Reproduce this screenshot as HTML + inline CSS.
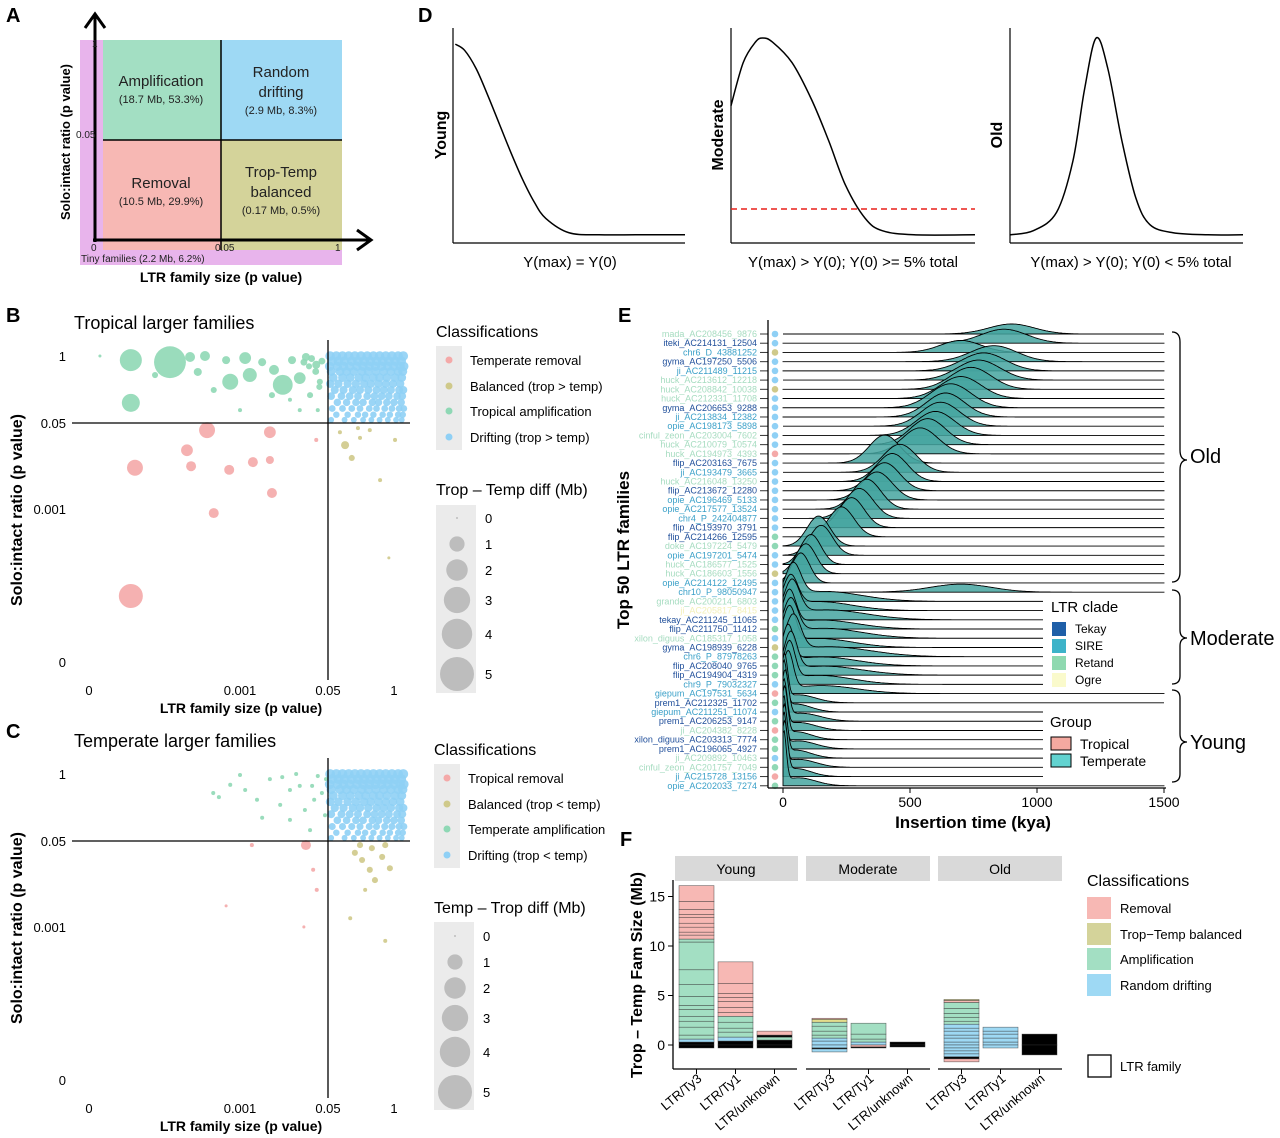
<!DOCTYPE html>
<html><head><meta charset="utf-8"><style>
body{margin:0;background:#fff}
svg{display:block;font-family:"Liberation Sans",Arial,sans-serif}
.b{font-weight:bold}
</style></head><body>
<svg id="fig" width="1280" height="1138" viewBox="0 0 1280 1138" xmlns="http://www.w3.org/2000/svg">
<rect x="0" y="0" width="1280" height="1138" fill="#fff"/>
<g class="b" font-size="20">
<text x="6" y="22">A</text>
<text x="6" y="322">B</text>
<text x="6" y="738">C</text>
<text x="418" y="22">D</text>
<text x="618" y="322">E</text>
<text x="620" y="846">F</text>
</g>
<g>
<rect x="80" y="40" width="262" height="225" fill="#e8b4ec"/>
<rect x="103" y="40" width="118" height="100" fill="#a3dfc3"/>
<rect x="221" y="40" width="121" height="100" fill="#9ed9f4"/>
<rect x="103" y="140" width="118" height="110" fill="#f7b8b4"/>
<rect x="221" y="140" width="121" height="110" fill="#d4d39a"/>
<line x1="103" y1="140" x2="342" y2="140" stroke="#000" stroke-width="1.5"/>
<line x1="221" y1="40" x2="221" y2="250" stroke="#000" stroke-width="1.5"/>
<line x1="95" y1="242" x2="95" y2="14" stroke="#000" stroke-width="3"/>
<polyline points="85,28 95,14 105,28" fill="none" stroke="#000" stroke-width="3"/>
<line x1="93" y1="240" x2="370" y2="240" stroke="#000" stroke-width="3"/>
<polyline points="357,230 371,240 357,250" fill="none" stroke="#000" stroke-width="3"/>
<g text-anchor="middle" fill="#222">
<text x="161" y="86" font-size="15">Amplification</text>
<text x="161" y="103" font-size="11">(18.7 Mb, 53.3%)</text>
<text x="281" y="77" font-size="15">Random</text>
<text x="281" y="97" font-size="15">drifting</text>
<text x="281" y="114" font-size="11">(2.9 Mb, 8.3%)</text>
<text x="161" y="188" font-size="15">Removal</text>
<text x="161" y="205" font-size="11">(10.5 Mb, 29.9%)</text>
<text x="281" y="177" font-size="15">Trop-Temp</text>
<text x="281" y="197" font-size="15">balanced</text>
<text x="281" y="214" font-size="11">(0.17 Mb, 0.5%)</text>
</g>
<g font-size="10" fill="#222">
<text x="92" y="47">1</text>
<text x="76" y="138">0.05</text>
<text x="91" y="251">0</text>
<text x="215" y="251">0.05</text>
<text x="335" y="251">1</text>
<text x="81" y="262" font-size="10">Tiny families (2.2 Mb, 6.2%)</text>
</g>
<text class="b" x="0" y="0" font-size="13" text-anchor="middle" transform="translate(70,142) rotate(-90)">Solo:intact ratio (p value)</text>
<text class="b" x="221" y="282" font-size="14" text-anchor="middle">LTR family size (p value)</text>
</g>
<g id="panelD">
<g stroke="#000" stroke-width="1.2">
<line x1="453" y1="28" x2="453" y2="243"/>
<line x1="453" y1="243" x2="685" y2="243"/>
<line x1="731" y1="28" x2="731" y2="243"/>
<line x1="731" y1="243" x2="975" y2="243"/>
<line x1="1010" y1="28" x2="1010" y2="243"/>
<line x1="1010" y1="243" x2="1243" y2="243"/>
</g>
<line x1="731" y1="209" x2="975" y2="209" stroke="#e8201a" stroke-width="1.5" stroke-dasharray="6,4"/>
<g class="b" font-size="16" text-anchor="middle">
<text transform="translate(446,135) rotate(-90)">Young</text>
<text transform="translate(723,135) rotate(-90)">Moderate</text>
<text transform="translate(1002,135) rotate(-90)">Old</text>
</g>
<g font-size="15" text-anchor="middle">
<text x="570" y="267">Y(max) = Y(0)</text>
<text x="853" y="267">Y(max) &gt; Y(0); Y(0) &gt;= 5% total</text>
<text x="1131" y="267">Y(max) &gt; Y(0); Y(0) &lt; 5% total</text>
</g>
</g>
<g>
<text x="74" y="329" font-size="18">Tropical larger families</text>
<g font-size="13" text-anchor="end">
<text x="66" y="361">1</text>
<text x="66" y="428">0.05</text>
<text x="66" y="514">0.001</text>
<text x="66" y="667">0</text>
</g>
<g font-size="13" text-anchor="middle">
<text x="89" y="695">0</text>
<text x="240" y="695">0.001</text>
<text x="328" y="695">0.05</text>
<text x="394" y="695">1</text>
</g>
<text class="b" transform="translate(22,510) rotate(-90)" font-size="16" text-anchor="middle">Solo:intact ratio (p value)</text>
<text class="b" x="241" y="713" font-size="14" text-anchor="middle">LTR family size (p value)</text>
</g>
<g>
<text x="74" y="747" font-size="18">Temperate larger families</text>
<g font-size="13" text-anchor="end">
<text x="66" y="779">1</text>
<text x="66" y="846">0.05</text>
<text x="66" y="932">0.001</text>
<text x="66" y="1085">0</text>
</g>
<g font-size="13" text-anchor="middle">
<text x="89" y="1113">0</text>
<text x="240" y="1113">0.001</text>
<text x="328" y="1113">0.05</text>
<text x="394" y="1113">1</text>
</g>
<text class="b" transform="translate(22,928) rotate(-90)" font-size="16" text-anchor="middle">Solo:intact ratio (p value)</text>
<text class="b" x="241" y="1131" font-size="14" text-anchor="middle">LTR family size (p value)</text>
</g>
<g font-size="13">
<text x="436" y="337" font-size="16">Classifications</text>
<rect x="436" y="346" width="26" height="104" fill="#ebebeb"/>
<circle cx="449" cy="360" r="3.5" fill="#f4a9a8"/>
<circle cx="449" cy="386" r="3.5" fill="#cfc98a"/>
<circle cx="449" cy="411" r="3.5" fill="#8fd8b5"/>
<circle cx="449" cy="437" r="3.5" fill="#8fd0f5"/>
<text x="470" y="365">Temperate removal</text>
<text x="470" y="391">Balanced (trop &gt; temp)</text>
<text x="470" y="416">Tropical amplification</text>
<text x="470" y="442">Drifting (trop &gt; temp)</text>
<text x="436" y="495" font-size="16">Trop – Temp diff (Mb)</text>
<rect x="436" y="505" width="40" height="188" fill="#ebebeb"/>
</g>
<g font-size="13">
<text x="434" y="755" font-size="16">Classifications</text>
<rect x="434" y="764" width="26" height="104" fill="#ebebeb"/>
<circle cx="447" cy="778" r="3.5" fill="#f4a9a8"/>
<circle cx="447" cy="804" r="3.5" fill="#cfc98a"/>
<circle cx="447" cy="829" r="3.5" fill="#8fd8b5"/>
<circle cx="447" cy="855" r="3.5" fill="#8fd0f5"/>
<text x="468" y="783">Tropical removal</text>
<text x="468" y="809">Balanced (trop &lt; temp)</text>
<text x="468" y="834">Temperate amplification</text>
<text x="468" y="860">Drifting (trop &lt; temp)</text>
<text x="434" y="913" font-size="16">Temp – Trop diff (Mb)</text>
<rect x="434" y="922" width="40" height="188" fill="#ebebeb"/>
</g>
<g>
<text class="b" transform="translate(629,550) rotate(-90)" font-size="17" text-anchor="middle">Top 50 LTR families</text>
<text class="b" x="973" y="828" font-size="17" text-anchor="middle">Insertion time (kya)</text>
<g fill="none" stroke="#000" stroke-width="1.3">
<path d="M1172,332 Q1180,332 1180,342 L1180,450 Q1180,460 1187,460 Q1180,460 1180,470 L1180,572 Q1180,582 1172,582"/>
<path d="M1172,590 Q1180,590 1180,598 L1180,630 Q1180,638 1187,638 Q1180,638 1180,646 L1180,676 Q1180,684 1172,684"/>
<path d="M1172,690 Q1180,690 1180,698 L1180,734 Q1180,742 1187,742 Q1180,742 1180,750 L1180,774 Q1180,782 1172,782"/>
</g>
<text x="1190" y="463" font-size="20">Old</text>
<text x="1190" y="645" font-size="20">Moderate</text>
<text x="1190" y="749" font-size="20">Young</text>
</g>
<g id="panelE"></g>
<g>
<rect x="1043" y="594" width="122" height="96" fill="#fff"/>
<text x="1051" y="612" font-size="15">LTR clade</text>
<g font-size="12">
<rect x="1052" y="622" width="14" height="14" fill="#1f5fa8"/>
<text x="1075" y="633">Tekay</text>
<rect x="1052" y="639" width="14" height="14" fill="#3db3c9"/>
<text x="1075" y="650">SIRE</text>
<rect x="1052" y="656" width="14" height="14" fill="#8fd9b0"/>
<text x="1075" y="667">Retand</text>
<rect x="1052" y="673" width="14" height="14" fill="#fafacc"/>
<text x="1075" y="684">Ogre</text>
</g>
<rect x="1043" y="705" width="122" height="72" fill="#fff"/>
<text x="1050" y="727" font-size="15">Group</text>
<rect x="1051" y="737" width="20" height="13" fill="#f4a9a0" stroke="#000"/>
<text x="1080" y="749" font-size="14">Tropical</text>
<rect x="1051" y="754" width="20" height="13" fill="#62d3d0" stroke="#000"/>
<text x="1080" y="766" font-size="14">Temperate</text>
</g>
<g>
<rect x="675" y="856" width="123" height="25" fill="#d9d9d9"/>
<rect x="806" y="856" width="124" height="25" fill="#d9d9d9"/>
<rect x="938" y="856" width="124" height="25" fill="#d9d9d9"/>
<g font-size="14" text-anchor="middle">
<text x="736" y="874">Young</text>
<text x="868" y="874">Moderate</text>
<text x="1000" y="874">Old</text>
</g>
<text class="b" transform="translate(642,975) rotate(-90)" font-size="16" text-anchor="middle">Trop – Temp Fam Size (Mb)</text>
<text x="1087" y="886" font-size="16">Classifications</text>
<g font-size="13">
<rect x="1087" y="897" width="24" height="22" fill="#f7b8b4"/>
<text x="1120" y="913">Removal</text>
<rect x="1087" y="923" width="24" height="22" fill="#d4d39a"/>
<text x="1120" y="939">Trop−Temp balanced</text>
<rect x="1087" y="948" width="24" height="22" fill="#a3dfc3"/>
<text x="1120" y="964">Amplification</text>
<rect x="1087" y="974" width="24" height="22" fill="#9ed9f4"/>
<text x="1120" y="990">Random drifting</text>
<rect x="1088" y="1055" width="23" height="22" fill="#fff" stroke="#000" stroke-width="1.3"/>
<text x="1120" y="1071">LTR family</text>
</g>
</g>
<g id="panelF"></g>
<g id="panelBC"></g>
</svg>
<script>
const bGreenX=[-5.11,-4.35,-5.11,-3.96,-3.67,-3.18,-2.80,-2.16,-2.89,-1.83,-3.50,-2.56,-2.37,-1.63,-1.51,-2.02,-1.83,-1.48,-5.71,-4.64,-2.99,-2.33,-1.98,-1.71,-1.44,-3.26,-3.81,-1.60,-1.52,-1.40,-1.45,-1.65,-1.75];
const bGreenY=[-0.08,-0.12,-0.91,-0.02,0,-0.50,-0.37,-0.56,-0.04,-0.43,-0.66,-0.12,-0.76,-0.76,-0.17,-0.85,-1.05,-1.05,0,-0.37,-1.05,-0.27,-0.08,-0.02,-0.50,-0.08,-0.31,-0.05,-0.30,-0.10,-0.60,-0.20,-0.12];
const bGreenS=[2.1,4.4,1.4,0.43,0.43,1.1,0.85,1.7,0.6,0.6,0.16,0.28,0.16,0.16,0.28,0.07,0.07,0.07,0.04,0.16,0.07,0.43,0.28,0.28,0.16,0.28,0.28,0.2,0.2,0.2,0.16,0.16,0.2];
const bRedX=[-3.63,-5.03,-4.02,-3.94,-3.20,-2.74,-2.41,-2.41,-2.37,-3.50,-5.11,-1.51];
const bRedY=[-1.44,-2.17,-1.83,-2.14,-2.21,-2.06,-1.48,-2.02,-2.66,-3.05,-4.66,-1.63];
const bRedS=[1.1,1.1,0.6,0.43,0.43,0.43,0.6,0.28,0.43,0.43,2.5,0.07];
const bOliveX=[-0.95,-0.82,-0.66,-0.10,-0.27,-0.47,-1.05,0.02,-0.70];
const bOliveY=[-1.73,-1.98,-1.59,-3.92,-2.41,-1.44,-1.48,-1.63,-1.40];
const bOliveS=[0.28,0.16,0.07,0.04,0.07,0.07,0.07,0.07,0.07];
const blueRowY=[0,-0.1,-0.2,-0.3,-0.42,-0.54,-0.66,-0.78,-0.9,-1.02,-1.14,-1.24];
const blueRowX=[
[-1.24,-1.12,-1.0,-0.88,-0.76,-0.64,-0.52,-0.4,-0.28,-0.16,-0.04,0.08,0.18],
[-1.2,-1.08,-0.96,-0.82,-0.7,-0.58,-0.46,-0.34,-0.22,-0.1,0.02,0.14],
[-1.25,-1.1,-0.98,-0.86,-0.72,-0.6,-0.48,-0.36,-0.24,-0.12,0.0,0.12,0.19],
[-1.22,-1.05,-0.92,-0.78,-0.62,-0.5,-0.35,-0.2,-0.06,0.08,0.17],
[-1.18,-1.0,-0.85,-0.68,-0.55,-0.4,-0.28,-0.14,0.02,0.15],
[-1.24,-1.08,-0.9,-0.74,-0.58,-0.45,-0.3,-0.16,-0.02,0.12],
[-1.15,-0.98,-0.8,-0.66,-0.5,-0.34,-0.2,-0.06,0.1,0.18],
[-1.22,-1.02,-0.86,-0.7,-0.52,-0.38,-0.24,-0.1,0.06,0.16],
[-1.1,-0.92,-0.74,-0.6,-0.42,-0.3,-0.14,0.0,0.14],
[-1.2,-1.0,-0.82,-0.66,-0.48,-0.34,-0.18,-0.04,0.1,0.19],
[-1.12,-0.9,-0.7,-0.56,-0.4,-0.22,-0.08,0.08,0.17],
[-1.22,-0.96,-0.78,-0.6,-0.44,-0.28,-0.12,0.04,0.15]];
const blueRowS=[0.4,0.4,0.38,0.35,0.33,0.3,0.28,0.26,0.24,0.2,0.18,0.15];
const cBlueRowS=[0.42,0.42,0.4,0.38,0.35,0.33,0.3,0.28,0.25,0.22,0.18,0.15];
const cGreenX=[-3.51,-3.40,-2.89,-2.66,-2.41,-2.17,-2.02,-1.83,-1.55,-1.48,-1.40,-1.34,-1.73,-2.56,-2.21,-3.18,-1.90,-1.59,-2.99,-1.32,-1.63,-2.02];
const cGreenY=[-0.37,-0.45,-0.31,-0.50,-0.10,-0.06,-0.31,-0.23,-0.50,-0.04,-0.37,-0.80,-0.70,-0.85,-0.60,-0.21,0,-0.23,-0.02,-0.10,-1.09,-0.89];
const cRedX=[-1.71,-2.76,-1.57,-1.50,-1.75,-3.26];
const cRedY=[-1.38,-1.38,-1.86,-2.25,-2.97,-2.56];
const cRedS=[0.43,0.07,0.07,0.07,0.04,0.04];
const cOliveX=[-0.76,-0.62,-0.47,-0.23,-0.17,-0.37,-0.56,-0.85,-0.17,-0.08,-0.43,-0.66];
const cOliveY=[-1.53,-1.67,-1.86,-1.61,-1.38,-2.06,-2.25,-2.80,-3.24,-1.83,-1.44,-1.38];
const cOliveS=[0.16,0.16,0.16,0.16,0.16,0.16,0.07,0.07,0.07,0.16,0.16,0.16];
const sizeLegendVals=[0,1,2,3,4,5];

const youngX=[0.01,0.05,0.1,0.15,0.2,0.25,0.3,0.35,0.4,0.5,0.63,0.8,1];
const youngY=[0.97,0.94,0.85,0.72,0.58,0.44,0.31,0.2,0.12,0.05,0.04,0.04,0.04];
const modX=[0,0.05,0.1,0.13,0.17,0.25,0.33,0.4,0.47,0.55,0.62,0.75,1];
const modY=[0.67,0.88,0.98,1,0.98,0.88,0.7,0.5,0.28,0.12,0.06,0.04,0.04];
const oldX=[0,0.1,0.2,0.27,0.32,0.37,0.42,0.48,0.54,0.6,0.7,0.85,1];
const oldY=[0.04,0.06,0.15,0.4,0.75,1,0.85,0.5,0.22,0.09,0.05,0.04,0.04];

const families=["mada_AC208456_9876","iteki_AC214131_12504","chr6_D_43881252","gyma_AC197250_5506","ji_AC211489_11215","huck_AC213612_12218","huck_AC208842_10038","huck_AC212331_11708","gyma_AC206653_9288","ji_AC213834_12382","opie_AC198173_5898","cinful_zeon_AC203004_7602","huck_AC210079_10574","huck_AC194973_4393","flip_AC203163_7675","ji_AC193479_3665","huck_AC216048_13250","flip_AC213672_12280","opie_AC196469_5133","opie_AC217577_13524","chr4_P_242404877","flip_AC193970_3791","flip_AC214266_12595","doke_AC197224_5479","opie_AC197201_5474","huck_AC186577_1525","huck_AC186603_1556","opie_AC214122_12495","chr10_P_98050947","grande_AC200214_6803","ji_AC205817_8415","tekay_AC211245_11065","flip_AC211750_11412","xilon_diguus_AC185317_1058","gyma_AC198939_6228","chr6_P_87978263","flip_AC208040_9765","flip_AC194904_4319","chr9_P_79032327","giepum_AC197531_5634","prem1_AC212325_11702","giepum_AC211251_11074","prem1_AC206253_9147","ji_AC204382_8228","xilon_diguus_AC203313_7774","prem1_AC196065_4927","ji_AC209892_10463","cinful_zeon_AC201757_7049","ji_AC215728_13156","opie_AC202033_7274"];
const clades=["R","T","S","T","S","R","R","R","T","S","S","R","R","R","T","S","R","T","S","S","S","T","T","R","S","R","R","S","S","R","O","T","T","R","T","S","T","T","S","S","T","S","T","R","T","T","R","R","S","S"];
const classes=["D","D","B","D","D","D","B","D","D","D","D","D","D","X","D","D","D","D","D","D","D","D","A","A","D","D","B","D","D","D","D","D","A","D","B","A","A","A","D","X","A","D","A","X","A","A","D","A","X","A"];
const peakKya=[900,870,700,830,790,770,740,700,660,640,620,600,570,540,400,460,430,400,370,330,300,270,230,140,150,110,90,70,700,40,30,35,25,30,25,40,20,30,25,20,6,4,8,4,6,3,5,4,6,3];
const sdKya=[90,90,80,90,85,85,80,80,80,75,75,75,70,70,60,65,60,60,60,55,55,50,50,45,45,40,40,35,120,30,28,30,25,28,25,30,22,25,22,20,12,12,14,12,12,10,12,10,12,10];
const heightPx=[10,14,12,16,18,20,22,22,24,24,24,24,26,26,28,28,28,28,28,30,30,30,30,30,30,30,30,30,8,32,30,34,34,34,36,36,36,38,38,38,44,46,46,46,48,48,48,50,50,50];
const tailKya=[0,0,0,0,0,0,0,0,0,0,0,0,0,0,0,0,0,0,0,0,0,0,0,0,0,0,0,0,10,160,140,170,150,160,140,180,150,160,140,150,60,50,70,60,50,60,50,60,50,60];
const tailPx=[0,0,0,0,0,0,0,0,0,0,0,0,0,0,0,0,0,0,0,0,0,0,0,0,0,0,0,0,14,10,9,10,9,10,9,10,9,9,9,8,8,8,8,8,8,8,8,8,8,8];
const eTicks=[0,500,1000,1500];

const fGroups=["Young","Moderate","Old"];
const fTypes=["LTR/Ty3","LTR/Ty1","LTR/unknown"];
const fYTicks=[0,5,10,15];
const fPos=[
 [["K",0.3],["D",0.3],["A",0.4],["A",0.8],["A",0.6],["A",0.5],["A",0.7],["A",0.4],["A",0.9],["A",1.2],["A",1.5],["A",2.8],["A",0.3],["R",0.4],["R",0.3],["R",0.5],["R",0.4],["R",0.6],["R",0.3],["R",0.5],["R",0.8],["R",1.6]],
 [["K",0.4],["D",0.4],["A",0.5],["A",0.4],["A",0.6],["A",0.6],["R",0.4],["R",0.5],["R",0.6],["R",0.4],["R",0.4],["R",1.0],["R",2.2]],
 [["K",0.5],["A",0.3],["K",0.2],["R",0.4]],
 [["D",0.4],["D",0.3],["A",0.3],["A",0.4],["A",0.5],["A",0.4],["B",0.3],["R",0.1]],
 [["D",0.3],["A",0.3],["A",0.5],["A",1.1]],
 [["K",0.3]],
 [["D",0.3],["D",0.4],["D",0.3],["D",0.4],["D",0.3],["D",0.4],["A",0.3],["A",0.4],["A",0.4],["A",0.5],["A",0.6],["R",0.2],["B",0.1]],
 [["D",0.3],["D",0.4],["D",0.4],["D",0.3],["D",0.4]],
 [["K",1.1]]];
const fNeg=[
 [["K",0.3]],[["K",0.3]],[["K",0.3]],
 [["D",0.3],["K",0.1],["D",0.3]],[["R",0.2],["K",0.1]],[["K",0.2]],
 [["D",0.3],["D",0.3],["D",0.3],["D",0.3],["K",0.2],["R",0.3]],[["D",0.3]],[["K",1.0]]];

const NS="http://www.w3.org/2000/svg";
function mk(tag,a,p){const e=document.createElementNS(NS,tag);for(const k in a)e.setAttribute(k,a[k]);p.appendChild(e);return e;}
const cols={R:"#f4a9a8",B:"#cfc98a",A:"#8fd8b5",D:"#8fd0f5",X:"#f4a9a8"};
const rOf=s=>Math.max(1,7.6*Math.sqrt(s));

const gBC=document.getElementById("panelBC");
function scatter(yTop,xs,ys,ss,color,name){
  const sx=l=>394+51.5*l, sy=l=>yTop-51.5*l;
  for(let i=0;i<xs.length;i++){
    const c=mk("circle",{cx:sx(xs[i]),cy:sy(ys[i]),r:rOf(ss[i]),fill:color,"fill-opacity":0.9},gBC);
    
    
  }
}
function blueCloud(yTop,sizes,name){
  const xs=[],ys=[],ss=[];
  blueRowY.forEach((y,ri)=>blueRowX[ri].forEach(x=>{xs.push(x);ys.push(y);ss.push(sizes[ri]);}));
  scatter(yTop,xs,ys,ss,"#8fd0f5",name);
}
function frame(yTop,pre){
  const l1=mk("line",{x1:72,y1:yTop+67,x2:410,y2:yTop+67,stroke:"#000","stroke-width":1.3},gBC);
  
  
  const l2=mk("line",{x1:328,y1:yTop-16,x2:328,y2:yTop+324,stroke:"#000","stroke-width":1.3},gBC);
  
  
}
blueCloud(356,blueRowS,'b-drifting-point');
scatter(356,bGreenX,bGreenY,bGreenS,cols.A,'b-amplification-point');
scatter(356,bRedX,bRedY,bRedS,cols.R,'b-removal-point');
scatter(356,bOliveX,bOliveY,bOliveS,cols.B,'b-balanced-point');
frame(356,'b');
blueCloud(774,cBlueRowS,'c-drifting-point');
scatter(774,cGreenX,cGreenY,cGreenX.map(()=>0.07),cols.A,'c-amplification-point');
scatter(774,cRedX,cRedY,cRedS,cols.R,'c-removal-point');
scatter(774,cOliveX,cOliveY,cOliveS,cols.B,'c-balanced-point');
frame(774,'c');
[[457,518,485,"b"],[455,936,483,"c"]].forEach(([cx,y0,tx,p])=>{
  const ys=[0,26,52,82,116,156];
  sizeLegendVals.forEach((v,i)=>{
    const c=mk("circle",{cx:cx,cy:y0+ys[i],r:rOf(v),fill:"#bdbdbd"},gBC);
    
    
    const t=mk("text",{x:tx,y:y0+ys[i]+5,"font-size":13},gBC);
    t.textContent=v;
    
    
  });
});

const gD=document.getElementById("panelD");
function smooth(pts){
  let d="M"+pts[0][0]+","+pts[0][1];
  for(let i=0;i<pts.length-1;i++){
    const p0=pts[Math.max(0,i-1)],p1=pts[i],p2=pts[i+1],p3=pts[Math.min(pts.length-1,i+2)];
    const c1=[p1[0]+(p2[0]-p0[0])/6,p1[1]+(p2[1]-p0[1])/6],c2=[p2[0]-(p3[0]-p1[0])/6,p2[1]-(p3[1]-p1[1])/6];
    d+=" C"+c1+" "+c2+" "+p2;
  }
  return d;
}
[[youngX,youngY,453,232,'young-curve'],[modX,modY,731,244,'moderate-curve'],[oldX,oldY,1010,233,'old-curve']].forEach(([xs,ys,x0,w,n])=>{
  const pts=xs.map((x,i)=>[x0+x*w,243-ys[i]*205]);
  const p=mk("path",{d:smooth(pts),fill:"none",stroke:"#000","stroke-width":1.5},gD);
  
  
});

const gE=document.getElementById("panelE");
const ex=k=>783+k*0.254;
const rowY=i=>334+i*9.22;
const labCol={T:"#1f4e9a",S:"#3aa0c8",R:"#a6dcc0",O:"#f3f0b8"};
const dotCol={D:"#8fd0f5",B:"#cfc98a",A:"#8fd8b5",X:"#f4a9a8"};
families.forEach((f,i)=>{
  const base=rowY(i);
  let d="M"+ex(0)+","+base;
  for(let k=0;k<=1500;k+=5){
    const g=heightPx[i]*Math.exp(-0.5*Math.pow((k-peakKya[i])/sdKya[i],2))+tailPx[i]*Math.exp(-0.5*Math.pow((k-tailKya[i])/(tailKya[i]*0.8+20),2));
    d+=" L"+ex(k).toFixed(1)+","+(base-g).toFixed(1);
  }
  d+=" L"+ex(1500)+","+base+" Z";
  const r=mk("path",{d:d,fill:"#45a5a0","fill-opacity":0.85,stroke:"#000","stroke-width":0.9},gE);
  
  
});
families.forEach((f,i)=>{
  const y=rowY(i);
  const t=mk("text",{x:757,y:y+3,"font-size":9,"text-anchor":"end",fill:labCol[clades[i]]},gE);
  t.textContent=f;
  
  
  const tk=mk("line",{x1:760,y1:y,x2:768,y2:y,stroke:"#333","stroke-width":1},gE);
  
  
  const c=mk("circle",{cx:775,cy:y,r:3.3,fill:dotCol[classes[i]]},gE);
  
  
});
const eAxY=mk("line",{x1:768,y1:320,x2:768,y2:788,stroke:"#000","stroke-width":1.3},gE);


const eAxX=mk("line",{x1:768,y1:788,x2:1166,y2:788,stroke:"#000","stroke-width":1.3},gE);


eTicks.forEach(v=>{
  const l=mk("line",{x1:ex(v),y1:788,x2:ex(v),y2:793,stroke:"#000"},gE);
  
  
  const t=mk("text",{x:ex(v),y:807,"font-size":14,"text-anchor":"middle"},gE);
  t.textContent=v;
  
  
});

const gF=document.getElementById("panelF");
const fy=v=>1045-v*9.9;
const fFill={R:"#f7b8b4",B:"#e3dd8c",A:"#a3dfc3",D:"#9ed9f4",K:"#000"};
const facetX=[673,806,938];
fGroups.forEach((g,gi)=>{
  const ax=mk("line",{x1:facetX[gi],y1:1069,x2:facetX[gi]+124,y2:1069,stroke:"#000","stroke-width":1.3},gF);
  
  
  fTypes.forEach((t,ti)=>{
    const bi=gi*3+ti, x=facetX[gi]+6+ti*39, w=35;
    let acc=0;
    fPos[bi].forEach(([c,v])=>{
      const r=mk("rect",{x:x,y:fy(acc+v),width:w,height:v*9.9,fill:fFill[c],stroke:"#333","stroke-width":0.6,"stroke-opacity":0.7},gF);
      
      
      acc+=v;
    });
    acc=0;
    fNeg[bi].forEach(([c,v])=>{
      const r=mk("rect",{x:x,y:fy(acc),width:w,height:v*9.9,fill:fFill[c],stroke:"#333","stroke-width":0.6,"stroke-opacity":0.7},gF);
      
      
      acc-=v;
    });
    const tk=mk("line",{x1:x+w/2,y1:1069,x2:x+w/2,y2:1074,stroke:"#000"},gF);
    
    
    const lab=mk("text",{x:0,y:0,"font-size":13,"text-anchor":"end",transform:"translate("+(x+w/2+6)+",1080) rotate(-40)"},gF);
    lab.textContent=t;
    
    
  });
});
const fAx=mk("line",{x1:673,y1:880,x2:673,y2:1069,stroke:"#000","stroke-width":1.3},gF);


fYTicks.forEach(v=>{
  const l=mk("line",{x1:668,y1:fy(v),x2:673,y2:fy(v),stroke:"#000"},gF);
  
  
  const t=mk("text",{x:665,y:fy(v)+5,"font-size":14,"text-anchor":"end"},gF);
  t.textContent=v;
  
  
});
</script>
</body></html>
